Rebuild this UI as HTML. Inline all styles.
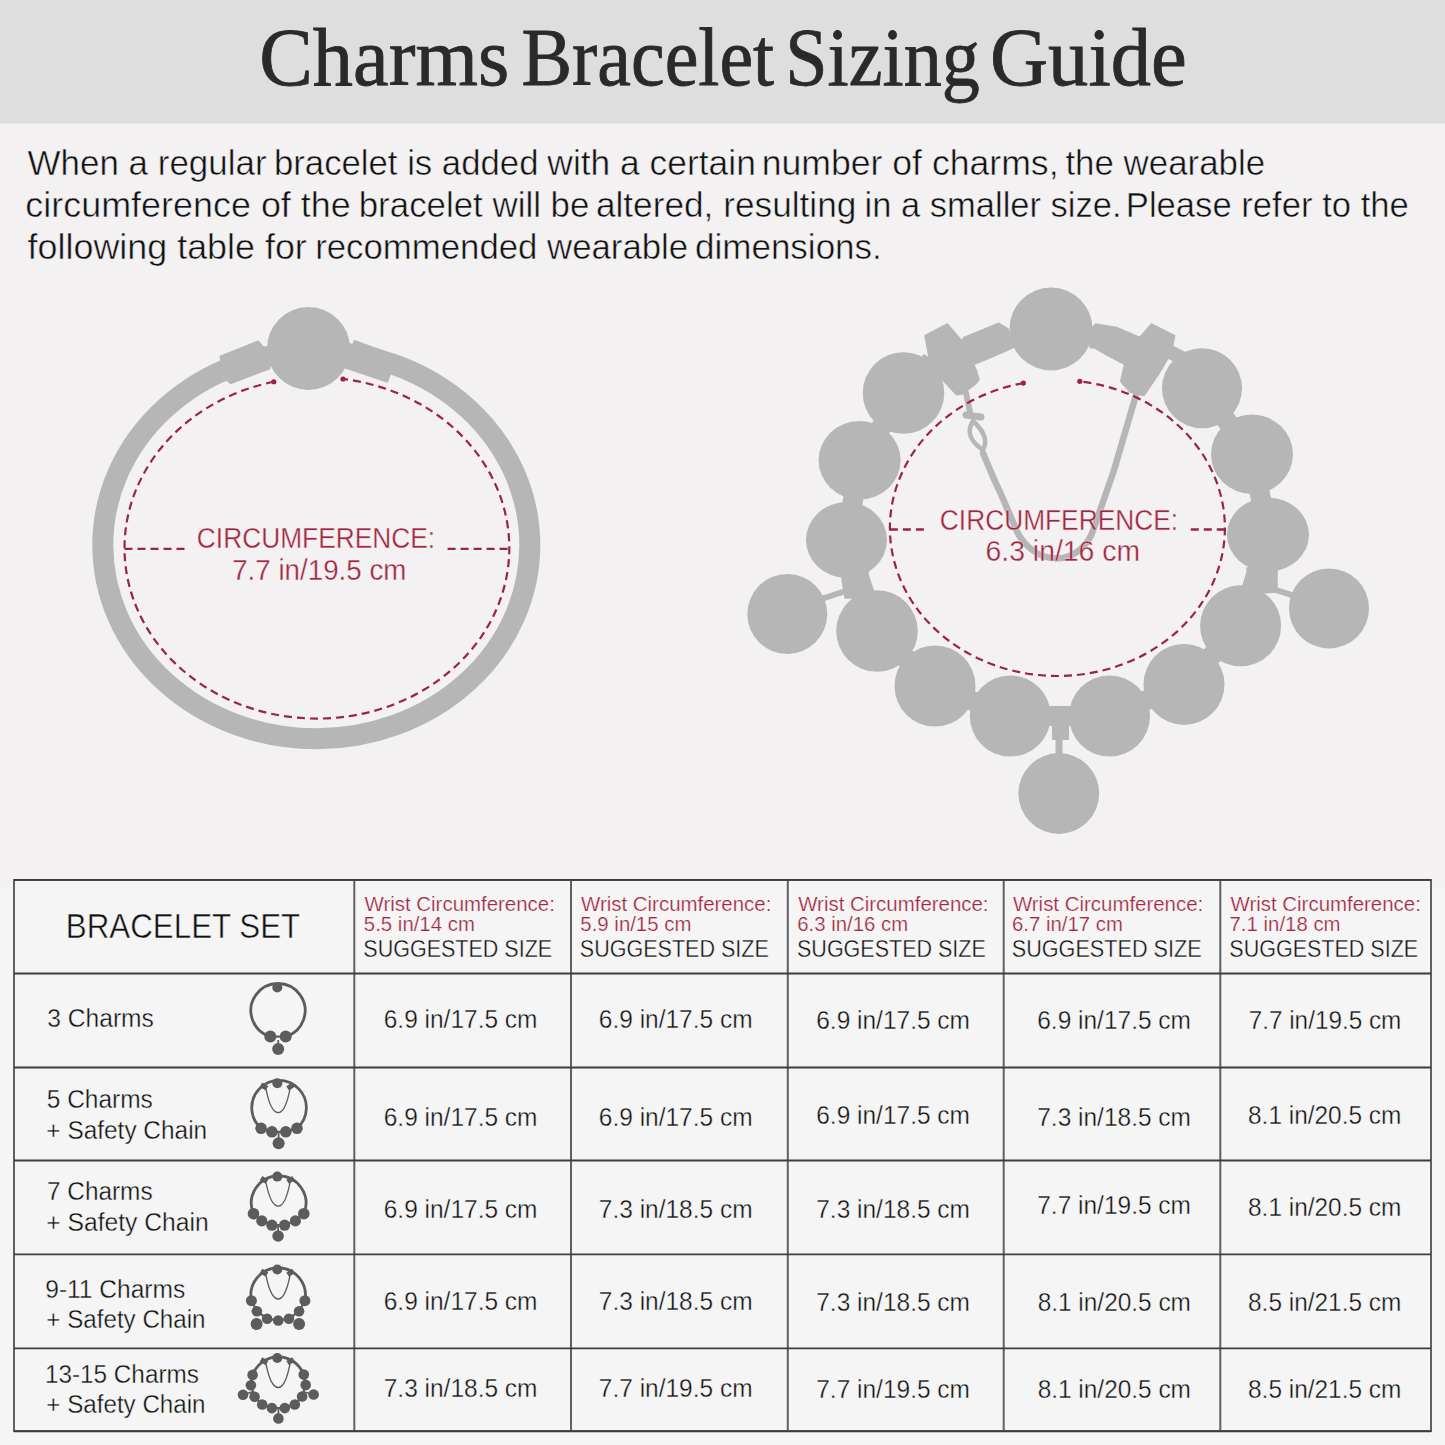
<!DOCTYPE html>
<html><head><meta charset="utf-8"><style>html,body{margin:0;padding:0;width:1445px;height:1445px;overflow:hidden;background:#f3f1f2}svg{display:block}text{font-family:"Liberation Sans",sans-serif}</style></head>
<body><svg width="1445" height="1445" viewBox="0 0 1445 1445">
<rect width="1445" height="1445" fill="#f3f1f2"/>
<rect width="1445" height="123.5" fill="#dedede"/>
<ellipse cx="316.3" cy="545" rx="213.5" ry="193.8" fill="none" stroke="#b6b6b6" stroke-width="21"/>
<polygon points="221,357 258,342 263.7,348.8 269,368 231,382.6 226,378.7" fill="#b6b6b6" stroke="#b6b6b6" stroke-width="3" stroke-linejoin="round"/>
<polygon points="355,341.6 395.4,356.5 387,381 345.5,367" fill="#b6b6b6" stroke="#b6b6b6" stroke-width="3" stroke-linejoin="round"/>
<circle cx="308.5" cy="348.5" r="41.5" fill="#b6b6b6"/>
<path d="M 273.8 381.74 A 192.4 170.6 0 1 0 343 378.98" fill="none" stroke="#9c2341" stroke-width="2.2" stroke-dasharray="8 5"/>
<circle cx="273.8" cy="381.74" r="2.6" fill="#9c2341"/><circle cx="343" cy="378.98" r="2.6" fill="#9c2341"/>
<path d="M124.5 548.9 H186 M447.6 548.9 H509.3" stroke="#9c2341" stroke-width="2.4" stroke-dasharray="8 5"/>
<polyline points="903.5,393 859.6,460 846.5,539.5 877,631 935,686 1010.3,716 1059,716 1109.5,716 1184,684.4 1240.6,625.8 1268,534.5 1252,454.3 1202,388.3" fill="none" stroke="#b6b6b6" stroke-width="20" stroke-linejoin="round"/>
<polygon points="925,335.7 947.4,324 962.3,341.5 976.4,370.6 979,379.7 974.8,384.7 962,394 956.5,394.7 940,377 929,357.3" fill="#b6b6b6" stroke="#b6b6b6" stroke-width="1.5" stroke-linejoin="round"/>
<polygon points="960,343 964,337.4 998.9,323.3 1008,329 1013.8,347.3 993,356.5 974.8,364" fill="#b6b6b6" stroke="#b6b6b6" stroke-width="1.5" stroke-linejoin="round"/>
<polygon points="1139.8,337.4 1151.4,324 1174.7,335.7 1171.4,352.3 1159.7,372.3 1144,395.5 1130,392 1120.7,381.4 1124.9,363" fill="#b6b6b6" stroke="#b6b6b6" stroke-width="1.5" stroke-linejoin="round"/>
<polygon points="1090,330 1095.8,324 1116.5,327.4 1141,338 1126,365 1106.6,354.8 1095,348.2 1090,347.3" fill="#b6b6b6" stroke="#b6b6b6" stroke-width="1.5" stroke-linejoin="round"/>
<path d="M920 360 L940 372 M1170 352 L1190 362" stroke="#b6b6b6" stroke-width="14"/>
<path d="M818 600 L846 591 M1298 597 L1270 588" stroke="#b6b6b6" stroke-width="6"/>
<polygon points="853,574 868,576 872,598 857,598" fill="#b6b6b6" stroke="#b6b6b6" stroke-width="1.5" stroke-linejoin="round"/>
<polygon points="1248,572 1264,570 1262,594 1246,596" fill="#b6b6b6" stroke="#b6b6b6" stroke-width="1.5" stroke-linejoin="round"/>
<rect x="1052" y="706" width="17" height="34" fill="#b6b6b6"/><path d="M1059 738 L1059 756" stroke="#b6b6b6" stroke-width="7"/>
<circle cx="1051" cy="329" r="41.5" fill="#b6b6b6"/>
<circle cx="903.5" cy="393" r="40.8" fill="#b6b6b6"/>
<ellipse cx="859.6" cy="460.2" rx="41" ry="39.2" fill="#b6b6b6"/>
<ellipse cx="846.5" cy="540" rx="40.5" ry="38" fill="#b6b6b6"/>
<circle cx="787.3" cy="614" r="40" fill="#b6b6b6"/>
<circle cx="877" cy="631" r="40.8" fill="#b6b6b6"/>
<circle cx="935" cy="686" r="40.5" fill="#b6b6b6"/>
<circle cx="1010.3" cy="716" r="40.5" fill="#b6b6b6"/>
<circle cx="1109.5" cy="716" r="40.5" fill="#b6b6b6"/>
<circle cx="1058.8" cy="793.5" r="40.4" fill="#b6b6b6"/>
<circle cx="1184" cy="684.4" r="40.5" fill="#b6b6b6"/>
<circle cx="1240.6" cy="625.8" r="40.5" fill="#b6b6b6"/>
<circle cx="1329" cy="608.4" r="40" fill="#b6b6b6"/>
<ellipse cx="1268" cy="534.6" rx="41" ry="37" fill="#b6b6b6"/>
<ellipse cx="1252" cy="454.3" rx="41" ry="39.7" fill="#b6b6b6"/>
<circle cx="1202" cy="388.3" r="40" fill="#b6b6b6"/>
<polygon points="841,572 868,572 868,598 845,598" fill="#b6b6b6" stroke="#b6b6b6" stroke-width="1.5" stroke-linejoin="round"/>
<polygon points="1247,568 1277,568 1277,592 1250,594" fill="#b6b6b6" stroke="#b6b6b6" stroke-width="1.5" stroke-linejoin="round"/>
<path d="M983 453 C990 470 995 482 1000.7 493.5 L1017.3 532.2 C1026 548 1040 558 1057 558.5 C1074 558 1088 546 1093.4 529.5 L1114.1 470 L1136 395" fill="none" stroke="#b6b6b6" stroke-width="6.5" stroke-linejoin="round" stroke-linecap="round"/>
<path d="M966 393 L970 412" stroke="#b6b6b6" stroke-width="6" stroke-linecap="round"/>
<path d="M966 415 L981 417" stroke="#b6b6b6" stroke-width="7" stroke-linecap="round"/>
<path d="M973 421 C966 432 970 441 983 450 C988 441 985 432 973 421 Z" fill="none" stroke="#b6b6b6" stroke-width="4.5" stroke-linejoin="round"/>
<path d="M 1023.3 383.1 A 167.5 148 0 1 0 1079.8 381.33" fill="none" stroke="#9c2341" stroke-width="2.2" stroke-dasharray="8 5"/>
<circle cx="1023.3" cy="383.1" r="2.6" fill="#9c2341"/><circle cx="1079.8" cy="381.33" r="2.6" fill="#9c2341"/>
<path d="M889.9 529.5 H926.4 M1190.8 529.5 H1224.9" stroke="#9c2341" stroke-width="2.4" stroke-dasharray="8 5"/>
<rect x="0" y="889" width="1445" height="556" fill="#f5f5f5"/>
<rect x="14" y="880" width="1417" height="551" fill="#f5f5f5" stroke="#606060" stroke-width="2"/>
<line x1="354.3" y1="880" x2="354.3" y2="1431" stroke="#606060" stroke-width="2"/>
<line x1="571" y1="880" x2="571" y2="1431" stroke="#606060" stroke-width="2"/>
<line x1="787.8" y1="880" x2="787.8" y2="1431" stroke="#606060" stroke-width="2"/>
<line x1="1003.7" y1="880" x2="1003.7" y2="1431" stroke="#606060" stroke-width="2"/>
<line x1="1220.3" y1="880" x2="1220.3" y2="1431" stroke="#606060" stroke-width="2"/>
<line x1="14" y1="973.5" x2="1431" y2="973.5" stroke="#3d3d3d" stroke-width="1.8"/>
<line x1="14" y1="1067.5" x2="1431" y2="1067.5" stroke="#3d3d3d" stroke-width="1.8"/>
<line x1="14" y1="1160.5" x2="1431" y2="1160.5" stroke="#3d3d3d" stroke-width="1.8"/>
<line x1="14" y1="1254.4" x2="1431" y2="1254.4" stroke="#3d3d3d" stroke-width="1.8"/>
<line x1="14" y1="1348.4" x2="1431" y2="1348.4" stroke="#3d3d3d" stroke-width="1.8"/>
<path d="M14 879.8 H1431 M14 1431.3 H1431" stroke="#3d3d3d" stroke-width="1.8"/>
<path d="M 270.3 1036.6 A 27.1 27.1 0 1 1 285.7 1036.6" fill="none" stroke="#5c5c5c" stroke-width="2.8"/>
<polyline points="270.3,1036.6 285.7,1036.6" fill="none" stroke="#5c5c5c" stroke-width="2.2"/>
<circle cx="277.3" cy="987.5" r="5" fill="#5c5c5c"/>
<circle cx="270.3" cy="1036.6" r="6" fill="#5c5c5c"/>
<circle cx="285.7" cy="1036.6" r="6" fill="#5c5c5c"/>
<line x1="278.2" y1="1049.1" x2="278.2" y2="1040" stroke="#5c5c5c" stroke-width="1.8"/>
<circle cx="278.2" cy="1049.1" r="6" fill="#5c5c5c"/>
<path d="M 261.1 1128.3 A 27.3 27.3 0 1 1 297 1128.3" fill="none" stroke="#5c5c5c" stroke-width="2.8"/>
<polyline points="261.1,1128.3 271.9,1131.8 285.8,1131.8 297,1128.3" fill="none" stroke="#5c5c5c" stroke-width="2.2"/>
<circle cx="277.3" cy="1083.2" r="5" fill="#5c5c5c"/>
<rect x="-2.5" y="-3.5" width="5" height="7" fill="#5c5c5c" transform="translate(264 1086.5) rotate(-58)"/>
<rect x="-2.5" y="-3.5" width="5" height="7" fill="#5c5c5c" transform="translate(290.6 1086.5) rotate(58)"/>
<path d="M266 1089.2 C268 1099.2 272 1112.7 278.3 1112.7 C284.6 1112.7 288 1099.2 290 1089.2" fill="none" stroke="#5c5c5c" stroke-width="1.3"/>
<circle cx="261.1" cy="1128.3" r="5.8" fill="#5c5c5c"/>
<circle cx="271.9" cy="1131.8" r="5.8" fill="#5c5c5c"/>
<circle cx="285.8" cy="1131.8" r="5.8" fill="#5c5c5c"/>
<circle cx="297" cy="1128.3" r="5.8" fill="#5c5c5c"/>
<line x1="278.6" y1="1143.3" x2="278.6" y2="1133" stroke="#5c5c5c" stroke-width="1.8"/>
<circle cx="278.6" cy="1143.3" r="6" fill="#5c5c5c"/>
<path d="M 253.5 1213.7 A 27.3 27.3 0 1 1 303.8 1213.7" fill="none" stroke="#5c5c5c" stroke-width="2.8"/>
<polyline points="253.5,1213.7 261.8,1220.9 271.9,1225.2 284.6,1225.2 295.4,1220.9 303.8,1213.7" fill="none" stroke="#5c5c5c" stroke-width="2.2"/>
<circle cx="277.3" cy="1176.6" r="5" fill="#5c5c5c"/>
<rect x="-2.5" y="-3.5" width="5" height="7" fill="#5c5c5c" transform="translate(264 1179.9) rotate(-58)"/>
<rect x="-2.5" y="-3.5" width="5" height="7" fill="#5c5c5c" transform="translate(290.6 1179.9) rotate(58)"/>
<path d="M266 1182.6 C268 1192.6 272 1206.1 278.3 1206.1 C284.6 1206.1 288 1192.6 290 1182.6" fill="none" stroke="#5c5c5c" stroke-width="1.3"/>
<circle cx="253.5" cy="1213.7" r="5.8" fill="#5c5c5c"/>
<circle cx="261.8" cy="1220.9" r="5.6" fill="#5c5c5c"/>
<circle cx="271.9" cy="1225.2" r="5.6" fill="#5c5c5c"/>
<circle cx="284.6" cy="1225.2" r="5.6" fill="#5c5c5c"/>
<circle cx="295.4" cy="1220.9" r="5.6" fill="#5c5c5c"/>
<circle cx="303.8" cy="1213.7" r="5.8" fill="#5c5c5c"/>
<line x1="278.1" y1="1236" x2="278.1" y2="1226" stroke="#5c5c5c" stroke-width="1.8"/>
<circle cx="278.1" cy="1236" r="5.8" fill="#5c5c5c"/>
<path d="M 251.4 1300.7 A 27.3 27.3 0 1 1 304.9 1300.7" fill="none" stroke="#5c5c5c" stroke-width="2.8"/>
<polyline points="251.4,1300.7 256.9,1311.2 267.1,1318.7 278.2,1320.5 288.9,1318.7 299.1,1311.2 304.9,1300.7" fill="none" stroke="#5c5c5c" stroke-width="2.2"/>
<circle cx="277.3" cy="1269.5" r="5" fill="#5c5c5c"/>
<rect x="-2.5" y="-3.5" width="5" height="7" fill="#5c5c5c" transform="translate(264 1272.8) rotate(-58)"/>
<rect x="-2.5" y="-3.5" width="5" height="7" fill="#5c5c5c" transform="translate(290.6 1272.8) rotate(58)"/>
<path d="M266 1275.5 C268 1285.5 272 1299 278.3 1299 C284.6 1299 288 1285.5 290 1275.5" fill="none" stroke="#5c5c5c" stroke-width="1.3"/>
<circle cx="251.4" cy="1300.7" r="5.5" fill="#5c5c5c"/>
<circle cx="256.9" cy="1311.2" r="5.3" fill="#5c5c5c"/>
<circle cx="267.1" cy="1318.7" r="5.3" fill="#5c5c5c"/>
<circle cx="278.2" cy="1320.5" r="5.3" fill="#5c5c5c"/>
<circle cx="288.9" cy="1318.7" r="5.3" fill="#5c5c5c"/>
<circle cx="299.1" cy="1311.2" r="5.3" fill="#5c5c5c"/>
<circle cx="304.9" cy="1300.7" r="5.5" fill="#5c5c5c"/>
<line x1="256.6" y1="1324" x2="256.6" y2="1318" stroke="#5c5c5c" stroke-width="1.8"/>
<circle cx="256.6" cy="1324" r="6" fill="#5c5c5c"/>
<line x1="299.1" y1="1324" x2="299.1" y2="1318" stroke="#5c5c5c" stroke-width="1.8"/>
<circle cx="299.1" cy="1324" r="6" fill="#5c5c5c"/>
<path d="M 252.6 1374.9 A 27.3 27.3 0 0 1 303.8 1374.6" fill="none" stroke="#5c5c5c" stroke-width="2.8"/>
<polyline points="252.6,1374.9 250.9,1385.2 254.6,1396.8 262.2,1404.5 271.9,1408.1 284.8,1408.1 294.8,1404.5 302.1,1396.5 305.7,1384.9 303.8,1374.6" fill="none" stroke="#5c5c5c" stroke-width="2.2"/>
<circle cx="277.3" cy="1358" r="5" fill="#5c5c5c"/>
<rect x="-2.5" y="-3.5" width="5" height="7" fill="#5c5c5c" transform="translate(264 1361.3) rotate(-58)"/>
<rect x="-2.5" y="-3.5" width="5" height="7" fill="#5c5c5c" transform="translate(290.6 1361.3) rotate(58)"/>
<path d="M266 1364 C268 1374 272 1387.5 278.3 1387.5 C284.6 1387.5 288 1374 290 1364" fill="none" stroke="#5c5c5c" stroke-width="1.3"/>
<circle cx="252.6" cy="1374.9" r="5.3" fill="#5c5c5c"/>
<circle cx="250.9" cy="1385.2" r="5.3" fill="#5c5c5c"/>
<circle cx="254.6" cy="1396.8" r="5.3" fill="#5c5c5c"/>
<circle cx="262.2" cy="1404.5" r="5.3" fill="#5c5c5c"/>
<circle cx="271.9" cy="1408.1" r="5.3" fill="#5c5c5c"/>
<circle cx="284.8" cy="1408.1" r="5.3" fill="#5c5c5c"/>
<circle cx="294.8" cy="1404.5" r="5.3" fill="#5c5c5c"/>
<circle cx="302.1" cy="1396.5" r="5.3" fill="#5c5c5c"/>
<circle cx="305.7" cy="1384.9" r="5.3" fill="#5c5c5c"/>
<circle cx="303.8" cy="1374.6" r="5.3" fill="#5c5c5c"/>
<line x1="243" y1="1394.8" x2="252" y2="1392" stroke="#5c5c5c" stroke-width="1.8"/>
<circle cx="243" cy="1394.8" r="5.3" fill="#5c5c5c"/>
<line x1="313.6" y1="1394.5" x2="304" y2="1392" stroke="#5c5c5c" stroke-width="1.8"/>
<circle cx="313.6" cy="1394.5" r="5.3" fill="#5c5c5c"/>
<line x1="278.4" y1="1418.4" x2="278.4" y2="1408" stroke="#5c5c5c" stroke-width="1.8"/>
<circle cx="278.4" cy="1418.4" r="5.3" fill="#5c5c5c"/>
<text transform="matrix(0.9797 0 0 1 259.29 85.3)" font-size="82" fill="#2a2a2a" style="font-family:'Liberation Serif',serif" stroke="#2a2a2a" stroke-width="0.8">Charms</text>
<text transform="matrix(0.9256 0 0 1 521.41 85.3)" font-size="82" fill="#2a2a2a" style="font-family:'Liberation Serif',serif" stroke="#2a2a2a" stroke-width="0.8">Bracelet</text>
<text transform="matrix(0.9283 0 0 1 785.24 85.3)" font-size="82" fill="#2a2a2a" style="font-family:'Liberation Serif',serif" stroke="#2a2a2a" stroke-width="0.8">Sizing</text>
<text transform="matrix(0.9820 0 0 1 989.98 85.3)" font-size="82" fill="#2a2a2a" style="font-family:'Liberation Serif',serif" stroke="#2a2a2a" stroke-width="0.8">Guide</text>
<text transform="matrix(0.9987 0 0 1 27.6 174.6)" font-size="35" fill="#111111" stroke="#f3f1f2" stroke-width="0.5">When a regular</text>
<text transform="matrix(0.9927 0 0 1 273.93 174.6)" font-size="35" fill="#111111" stroke="#f3f1f2" stroke-width="0.5">bracelet is added</text>
<text transform="matrix(1.0113 0 0 1 547.35 174.6)" font-size="35" fill="#111111" stroke="#f3f1f2" stroke-width="0.5">with a certain</text>
<text transform="matrix(1.0182 0 0 1 761.67 174.6)" font-size="35" fill="#111111" stroke="#f3f1f2" stroke-width="0.5">number of charms,</text>
<text transform="matrix(0.9970 0 0 1 1065.4 174.6)" font-size="35" fill="#111111" stroke="#f3f1f2" stroke-width="0.5">the wearable</text>
<text transform="matrix(1.0265 0 0 1 25.37 216.8)" font-size="35" fill="#111111" stroke="#f3f1f2" stroke-width="0.5">circumference of the</text>
<text transform="matrix(0.9965 0 0 1 358.72 216.8)" font-size="35" fill="#111111" stroke="#f3f1f2" stroke-width="0.5">bracelet will be</text>
<text transform="matrix(1.0071 0 0 1 595.89 216.8)" font-size="35" fill="#111111" stroke="#f3f1f2" stroke-width="0.5">altered, resulting</text>
<text transform="matrix(0.9863 0 0 1 864.54 216.8)" font-size="35" fill="#111111" stroke="#f3f1f2" stroke-width="0.5">in a smaller size.</text>
<text transform="matrix(0.9899 0 0 1 1125.79 216.8)" font-size="35" fill="#111111" stroke="#f3f1f2" stroke-width="0.5">Please refer to the</text>
<text transform="matrix(1.0254 0 0 1 27.6 259)" font-size="35" fill="#111111" stroke="#f3f1f2" stroke-width="0.5">following table for</text>
<text transform="matrix(0.9942 0 0 1 315.13 259)" font-size="35" fill="#111111" stroke="#f3f1f2" stroke-width="0.5">recommended wearable</text>
<text transform="matrix(1.0005 0 0 1 695 259)" font-size="35" fill="#111111" stroke="#f3f1f2" stroke-width="0.5">dimensions.</text>
<text transform="matrix(0.8925 0 0 1 196.87 547.8)" font-size="29.5" fill="#a2263f" stroke="#f3f1f2" stroke-width="0.35">CIRCUMFERENCE:</text>
<text transform="matrix(0.9403 0 0 1 232.2 579.8)" font-size="29.5" fill="#a2263f" stroke="#f3f1f2" stroke-width="0.35">7.7 in/19.5 cm</text>
<text transform="matrix(0.8921 0 0 1 939.86 529.5)" font-size="29.5" fill="#a2263f" stroke="#f3f1f2" stroke-width="0.35">CIRCUMFERENCE:</text>
<text transform="matrix(0.9615 0 0 1 985.57 561.3)" font-size="29.5" fill="#a2263f" stroke="#f3f1f2" stroke-width="0.35">6.3 in/16 cm</text>
<text transform="matrix(0.8950 0 0 1 65.85 937.9)" font-size="35" fill="#111111" stroke="#f5f5f5" stroke-width="0.5">BRACELET SET</text>
<text transform="matrix(1.0070 0 0 1 364.5 911.2)" font-size="20.3" fill="#a2263f" stroke="#f5f5f5" stroke-width="0.25">Wrist Circumference:</text>
<text transform="matrix(1.0049 0 0 1 363.86 930.7)" font-size="20.3" fill="#a2263f" stroke="#f5f5f5" stroke-width="0.25">5.5 in/14 cm</text>
<text transform="matrix(0.9238 0 0 1 363.33 956.9)" font-size="23.3" fill="#111111" stroke="#f5f5f5" stroke-width="0.35">SUGGESTED SIZE</text>
<text transform="matrix(1.0070 0 0 1 581 911.2)" font-size="20.3" fill="#a2263f" stroke="#f5f5f5" stroke-width="0.25">Wrist Circumference:</text>
<text transform="matrix(1.0049 0 0 1 580.36 930.7)" font-size="20.3" fill="#a2263f" stroke="#f5f5f5" stroke-width="0.25">5.9 in/15 cm</text>
<text transform="matrix(0.9239 0 0 1 579.83 956.9)" font-size="23.3" fill="#111111" stroke="#f5f5f5" stroke-width="0.35">SUGGESTED SIZE</text>
<text transform="matrix(1.0070 0 0 1 798.2 911.2)" font-size="20.3" fill="#a2263f" stroke="#f5f5f5" stroke-width="0.25">Wrist Circumference:</text>
<text transform="matrix(1.0049 0 0 1 797.24 930.7)" font-size="20.3" fill="#a2263f" stroke="#f5f5f5" stroke-width="0.25">6.3 in/16 cm</text>
<text transform="matrix(0.9238 0 0 1 797.03 956.9)" font-size="23.3" fill="#111111" stroke="#f5f5f5" stroke-width="0.35">SUGGESTED SIZE</text>
<text transform="matrix(1.0070 0 0 1 1012.9 911.2)" font-size="20.3" fill="#a2263f" stroke="#f5f5f5" stroke-width="0.25">Wrist Circumference:</text>
<text transform="matrix(1.0049 0 0 1 1011.94 930.7)" font-size="20.3" fill="#a2263f" stroke="#f5f5f5" stroke-width="0.25">6.7 in/17 cm</text>
<text transform="matrix(0.9288 0 0 1 1011.72 956.9)" font-size="23.3" fill="#111111" stroke="#f5f5f5" stroke-width="0.35">SUGGESTED SIZE</text>
<text transform="matrix(1.0070 0 0 1 1230.5 911.2)" font-size="20.3" fill="#a2263f" stroke="#f5f5f5" stroke-width="0.25">Wrist Circumference:</text>
<text transform="matrix(1.0049 0 0 1 1229.54 930.7)" font-size="20.3" fill="#a2263f" stroke="#f5f5f5" stroke-width="0.25">7.1 in/18 cm</text>
<text transform="matrix(0.9238 0 0 1 1229.33 956.9)" font-size="23.3" fill="#111111" stroke="#f5f5f5" stroke-width="0.35">SUGGESTED SIZE</text>
<text transform="matrix(0.9536 0 0 1 47.33 1026.6)" font-size="25.8" fill="#111111" stroke="#f5f5f5" stroke-width="0.35">3 Charms</text>
<text transform="matrix(0.9490 0 0 1 46.73 1107.5)" font-size="25.8" fill="#111111" stroke="#f5f5f5" stroke-width="0.35">5 Charms</text>
<text transform="matrix(0.9462 0 0 1 46.36 1138.6)" font-size="25.8" fill="#111111" stroke="#f5f5f5" stroke-width="0.35">+ Safety Chain</text>
<text transform="matrix(0.9450 0 0 1 46.96 1200.1)" font-size="25.8" fill="#111111" stroke="#f5f5f5" stroke-width="0.35">7 Charms</text>
<text transform="matrix(0.9558 0 0 1 46.34 1230.5)" font-size="25.8" fill="#111111" stroke="#f5f5f5" stroke-width="0.35">+ Safety Chain</text>
<text transform="matrix(0.9512 0 0 1 45.25 1297.6)" font-size="25.8" fill="#111111" stroke="#f5f5f5" stroke-width="0.35">9-11 Charms</text>
<text transform="matrix(0.9367 0 0 1 46.37 1327.8)" font-size="25.8" fill="#111111" stroke="#f5f5f5" stroke-width="0.35">+ Safety Chain</text>
<text transform="matrix(0.9426 0 0 1 44.88 1382.6)" font-size="25.8" fill="#111111" stroke="#f5f5f5" stroke-width="0.35">13-15 Charms</text>
<text transform="matrix(0.9367 0 0 1 46.37 1413.2)" font-size="25.8" fill="#111111" stroke="#f5f5f5" stroke-width="0.35">+ Safety Chain</text>
<text transform="matrix(0.9718 0 0 1 383.75 1028.4)" font-size="25.2" fill="#111111" stroke="#f5f5f5" stroke-width="0.35">6.9 in/17.5 cm</text>
<text transform="matrix(0.9718 0 0 1 598.85 1028.4)" font-size="25.2" fill="#111111" stroke="#f5f5f5" stroke-width="0.35">6.9 in/17.5 cm</text>
<text transform="matrix(0.9718 0 0 1 816.25 1029.1)" font-size="25.2" fill="#111111" stroke="#f5f5f5" stroke-width="0.35">6.9 in/17.5 cm</text>
<text transform="matrix(0.9718 0 0 1 1037.25 1029.1)" font-size="25.2" fill="#111111" stroke="#f5f5f5" stroke-width="0.35">6.9 in/17.5 cm</text>
<text transform="matrix(0.9654 0 0 1 1248.66 1029.1)" font-size="25.2" fill="#111111" stroke="#f5f5f5" stroke-width="0.35">7.7 in/19.5 cm</text>
<text transform="matrix(0.9718 0 0 1 383.75 1126)" font-size="25.2" fill="#111111" stroke="#f5f5f5" stroke-width="0.35">6.9 in/17.5 cm</text>
<text transform="matrix(0.9718 0 0 1 598.85 1126)" font-size="25.2" fill="#111111" stroke="#f5f5f5" stroke-width="0.35">6.9 in/17.5 cm</text>
<text transform="matrix(0.9718 0 0 1 816.25 1124.1)" font-size="25.2" fill="#111111" stroke="#f5f5f5" stroke-width="0.35">6.9 in/17.5 cm</text>
<text transform="matrix(0.9718 0 0 1 1037.25 1125.6)" font-size="25.2" fill="#111111" stroke="#f5f5f5" stroke-width="0.35">7.3 in/18.5 cm</text>
<text transform="matrix(0.9693 0 0 1 1248.04 1124.1)" font-size="25.2" fill="#111111" stroke="#f5f5f5" stroke-width="0.35">8.1 in/20.5 cm</text>
<text transform="matrix(0.9718 0 0 1 383.75 1217.8)" font-size="25.2" fill="#111111" stroke="#f5f5f5" stroke-width="0.35">6.9 in/17.5 cm</text>
<text transform="matrix(0.9718 0 0 1 598.85 1217.8)" font-size="25.2" fill="#111111" stroke="#f5f5f5" stroke-width="0.35">7.3 in/18.5 cm</text>
<text transform="matrix(0.9718 0 0 1 816.25 1217.5)" font-size="25.2" fill="#111111" stroke="#f5f5f5" stroke-width="0.35">7.3 in/18.5 cm</text>
<text transform="matrix(0.9718 0 0 1 1037.25 1213.8)" font-size="25.2" fill="#111111" stroke="#f5f5f5" stroke-width="0.35">7.7 in/19.5 cm</text>
<text transform="matrix(0.9693 0 0 1 1248.04 1215.9)" font-size="25.2" fill="#111111" stroke="#f5f5f5" stroke-width="0.35">8.1 in/20.5 cm</text>
<text transform="matrix(0.9718 0 0 1 383.75 1310.1)" font-size="25.2" fill="#111111" stroke="#f5f5f5" stroke-width="0.35">6.9 in/17.5 cm</text>
<text transform="matrix(0.9718 0 0 1 598.85 1310.1)" font-size="25.2" fill="#111111" stroke="#f5f5f5" stroke-width="0.35">7.3 in/18.5 cm</text>
<text transform="matrix(0.9718 0 0 1 816.25 1310.9)" font-size="25.2" fill="#111111" stroke="#f5f5f5" stroke-width="0.35">7.3 in/18.5 cm</text>
<text transform="matrix(0.9693 0 0 1 1037.64 1310.8)" font-size="25.2" fill="#111111" stroke="#f5f5f5" stroke-width="0.35">8.1 in/20.5 cm</text>
<text transform="matrix(0.9693 0 0 1 1248.04 1310.9)" font-size="25.2" fill="#111111" stroke="#f5f5f5" stroke-width="0.35">8.5 in/21.5 cm</text>
<text transform="matrix(0.9718 0 0 1 383.75 1397.3)" font-size="25.2" fill="#111111" stroke="#f5f5f5" stroke-width="0.35">7.3 in/18.5 cm</text>
<text transform="matrix(0.9718 0 0 1 598.85 1397.3)" font-size="25.2" fill="#111111" stroke="#f5f5f5" stroke-width="0.35">7.7 in/19.5 cm</text>
<text transform="matrix(0.9718 0 0 1 816.25 1397.5)" font-size="25.2" fill="#111111" stroke="#f5f5f5" stroke-width="0.35">7.7 in/19.5 cm</text>
<text transform="matrix(0.9693 0 0 1 1037.64 1397.5)" font-size="25.2" fill="#111111" stroke="#f5f5f5" stroke-width="0.35">8.1 in/20.5 cm</text>
<text transform="matrix(0.9693 0 0 1 1248.04 1397.5)" font-size="25.2" fill="#111111" stroke="#f5f5f5" stroke-width="0.35">8.5 in/21.5 cm</text>
</svg></body></html>
